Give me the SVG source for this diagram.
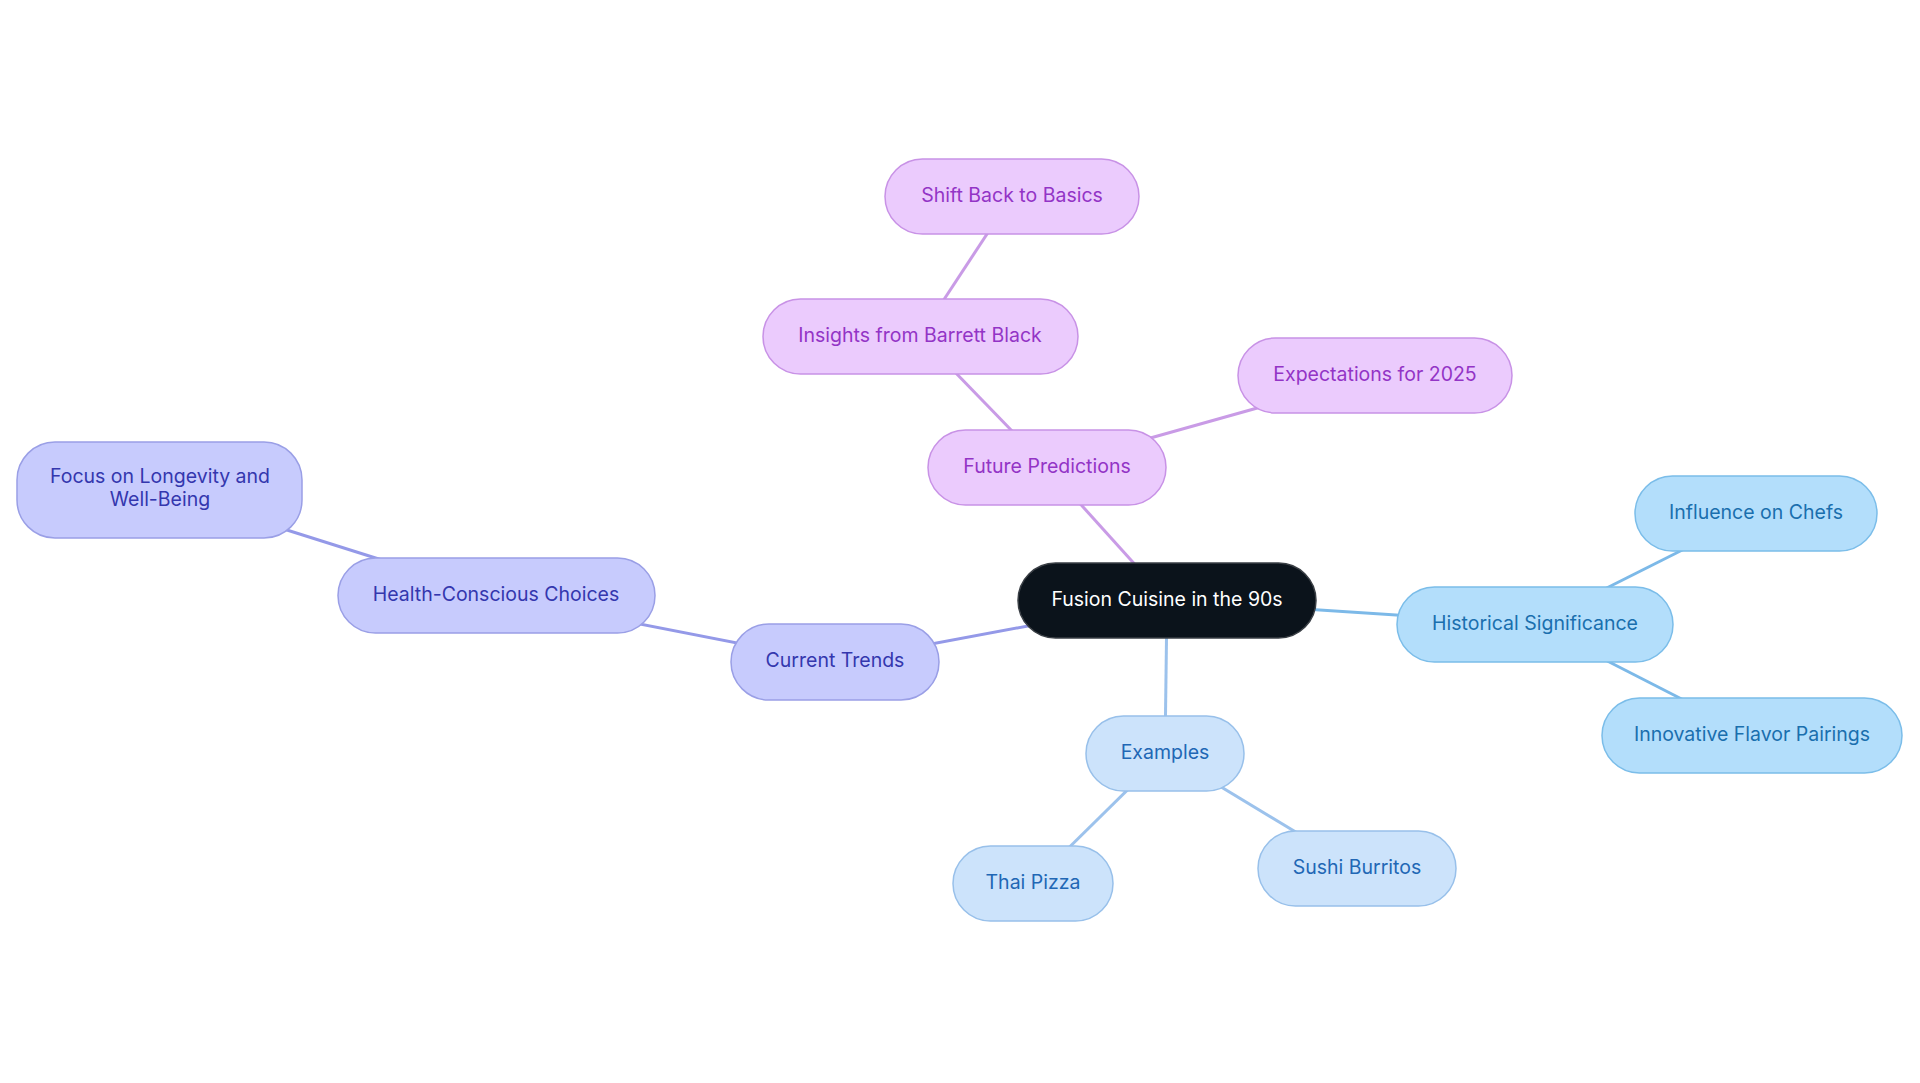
<svg xmlns="http://www.w3.org/2000/svg" width="1920" height="1083" viewBox="0 0 1920 1083">
<style>
text{font-family:Inter,"Noto Sans","Liberation Sans",sans-serif;font-size:19.5px;text-anchor:middle;dominant-baseline:central}
.e{stroke-width:3;fill:none}
.hist rect{fill:#b3defb;stroke:#7bbde9;stroke-width:1.5}.hist text{fill:#1a6fae}
.ex rect{fill:#cce3fb;stroke:#98c0ea;stroke-width:1.5}.ex text{fill:#2167b5}
.cur rect{fill:#c7cbfd;stroke:#9a9fe6;stroke-width:1.5}.cur text{fill:#3437ae}
.fut rect{fill:#ebcbfd;stroke:#c892e6;stroke-width:1.5}.fut text{fill:#9334c6}
</style>
<rect width="1920" height="1083" fill="#ffffff"/>
<g id="connectors">
<line class="e" stroke="#7cb9e8" x1="1167" y1="600" x2="1535" y2="624"/>
<line class="e" stroke="#7cb9e8" x1="1535" y1="624" x2="1756" y2="513"/>
<line class="e" stroke="#7cb9e8" x1="1535" y1="624" x2="1752" y2="735"/>
<line class="e" stroke="#9cc2ec" x1="1167" y1="600" x2="1165" y2="753"/>
<line class="e" stroke="#9cc2ec" x1="1165" y1="753" x2="1033" y2="883"/>
<line class="e" stroke="#9cc2ec" x1="1165" y1="753" x2="1357" y2="869"/>
<line class="e" stroke="#9499e8" x1="1167" y1="600" x2="835" y2="662"/>
<line class="e" stroke="#9499e8" x1="835" y1="662" x2="496" y2="596"/>
<line class="e" stroke="#9499e8" x1="496" y1="596" x2="160" y2="490"/>
<line class="e" stroke="#c99be6" x1="1167" y1="600" x2="1047" y2="467"/>
<line class="e" stroke="#c99be6" x1="1047" y1="467" x2="920" y2="336"/>
<line class="e" stroke="#c99be6" x1="920" y1="336" x2="1012" y2="196"/>
<line class="e" stroke="#c99be6" x1="1047" y1="467" x2="1375" y2="375"/>
</g>
<g id="center"><rect x="1018" y="563" width="298" height="75" rx="37.5" fill="#0b131b" stroke="#3a3f45" stroke-width="1.5"/><text x="1167" y="598.5" fill="#ffffff">Fusion Cuisine in the 90s</text></g>
<g id="historical" class="hist"><rect x="1397" y="587" width="276" height="75" rx="37.5"/><text x="1535" y="622.5">Historical Significance</text></g>
<g id="influence" class="hist"><rect x="1635" y="476" width="242" height="75" rx="37.5"/><text x="1756" y="511.5">Influence on Chefs</text></g>
<g id="innovative" class="hist"><rect x="1602" y="698" width="300" height="75" rx="37.5"/><text x="1752" y="733.5">Innovative Flavor Pairings</text></g>
<g id="examples" class="ex"><rect x="1086" y="716" width="158" height="75" rx="37.5"/><text x="1165" y="751.5">Examples</text></g>
<g id="thai" class="ex"><rect x="953" y="846" width="160" height="75" rx="37.5"/><text x="1033" y="881.5">Thai Pizza</text></g>
<g id="sushi" class="ex"><rect x="1258" y="831" width="198" height="75" rx="37.5"/><text x="1357" y="866.5">Sushi Burritos</text></g>
<g id="current" class="cur"><rect x="731" y="624" width="208" height="76" rx="38"/><text x="835" y="660">Current Trends</text></g>
<g id="health" class="cur"><rect x="338" y="558" width="317" height="75" rx="37.5"/><text x="496" y="593.5">Health-Conscious Choices</text></g>
<g id="focus" class="cur"><rect x="17" y="442" width="285" height="96" rx="38"/><text x="160" y="476">Focus on Longevity and</text><text x="160" y="499">Well-Being</text></g>
<g id="future" class="fut"><rect x="928" y="430" width="238" height="75" rx="37.5"/><text x="1047" y="465.5">Future Predictions</text></g>
<g id="insights" class="fut"><rect x="763" y="299" width="315" height="75" rx="37.5"/><text x="920" y="334.5">Insights from Barrett Black</text></g>
<g id="shift" class="fut"><rect x="885" y="159" width="254" height="75" rx="37.5"/><text x="1012" y="194.5">Shift Back to Basics</text></g>
<g id="expectations" class="fut"><rect x="1238" y="338" width="274" height="75" rx="37.5"/><text x="1375" y="373.5">Expectations for 2025</text></g>
</svg>
